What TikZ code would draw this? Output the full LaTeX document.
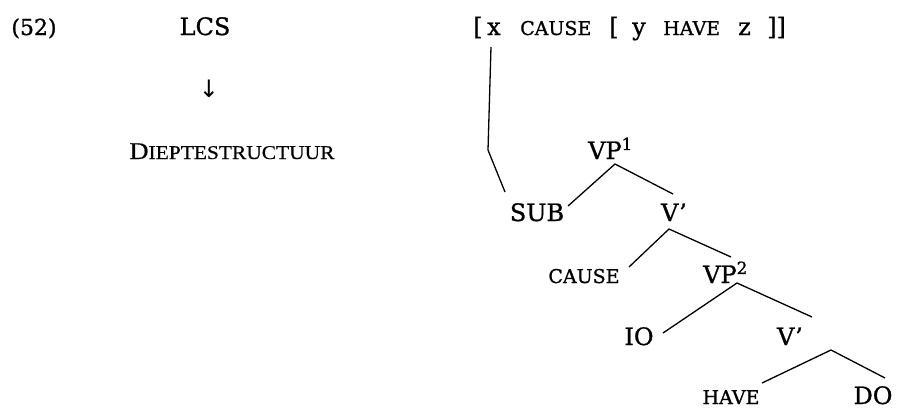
\documentclass[tikz,border=0pt]{standalone}
\usepackage{fontspec}
\setmainfont[FakeBold=1]{DejaVu Serif}
\newfontfamily\timesf[FakeBold=0.5]{Liberation Serif}
\newfontfamily\arrowf{DejaVu Sans}
\newcommand\bigtxt{\fontsize{24}{24}\selectfont}
\newcommand\smc[1]{{\fontsize{19}{19}\selectfont #1}}
\begin{document}
\begin{tikzpicture}[x=1pt,y=-1pt,
  lbl/.style={inner sep=0pt,anchor=base,font=\bigtxt},
  lblw/.style={lbl,anchor=base west},
  branch/.style={line width=1.3pt}]
\useasboundingbox (0,0) rectangle (897,408);

% left column
\node[lbl,font=\fontsize{22}{22}\selectfont] (ex) at (34,35) {(52)};
\node[lbl] (lcs) at (205,35) {LCS};
\node[inner sep=0pt,font=\arrowf\fontsize{24}{24}\selectfont] (arr) at (209,89) {↓};
\node[lbl,font=\timesf\fontsize{24}{24}\selectfont] (diep) at (232,159)
  {\scalebox{1.1}[1]{D{\fontsize{19.5}{19.5}\selectfont IEPTESTRUCTUUR}}};

% bracketed LCS formula
\node[lblw] (b1) at (473,35) {[};
\node[lblw] (xv) at (487,35) {x};
\node[lblw] (c1) at (520,35) {\smc{CAUSE}};
\node[lblw] (b2) at (609,35) {[};
\node[lblw] (yv) at (632,35) {y};
\node[lblw] (h1) at (663,35) {\smc{HAVE}};
\node[lblw] (zv) at (738,35) {z};
\node[lblw] (b3) at (767,35) {]]};

% tree labels
\node[lblw] (vp1) at (588,159) {VP\textsuperscript{1}};
\node[lbl] (sub) at (537,221) {SUB};
\node[lbl] (v1) at (674,221) {V’};
\node[lbl] (cause) at (584,283) {\smc{CAUSE}};
\node[lblw] (vp2) at (703,283) {VP\textsuperscript{2}};
\node[lbl] (io) at (639,345) {IO};
\node[lbl] (v2) at (790,345) {V’};
\node[lbl] (have) at (731,404) {\smc{HAVE}};
\node[lbl] (do) at (873,404) {DO};

% link from the argument x to the subject position
\coordinate (bend) at (488,150);
\draw[branch] ([shift={(4,12)}]xv.base west) -- (bend) -- ([shift={(-32,-29)}]sub.base);

% branches
\draw[branch] ([shift={(31,-15)}]sub.base) -- ([shift={(27,5)}]vp1.base west)
  -- ([shift={(-1,-27)}]v1.base);
\draw[branch] ([shift={(45,-16)}]cause.base) -- ([shift={(-5,8)}]v1.base)
  -- ([shift={(28,-26)}]vp2.base west);
\draw[branch] ([shift={(24,-12)}]io.base) -- ([shift={(34,0)}]vp2.base west)
  -- ([shift={(22,-28)}]v2.base);
\draw[branch] ([shift={(31,-21)}]have.base) -- ([shift={(41,5)}]v2.base)
  -- ([shift={(12,-26)}]do.base);
\end{tikzpicture}
\end{document}
